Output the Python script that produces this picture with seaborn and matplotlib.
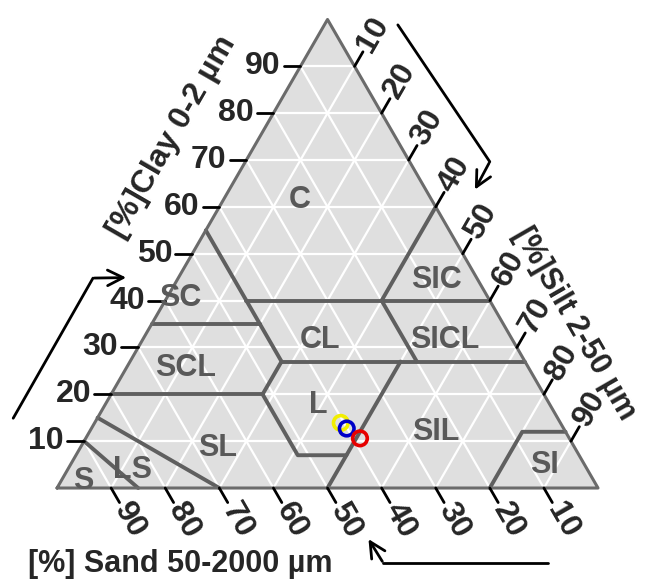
import numpy as np
import pandas as pd
import seaborn as sns
import matplotlib.pyplot as plt

# ternary soil texture triangle (USDA classes), clay/silt/sand in %
ticks = [10, 20, 30, 40, 50, 60, 70, 80, 90]

# class boundaries as (clay, silt) polylines
boundaries = [
    ([10, 0], [0, 15]),
    ([15, 0], [0, 30]),
    ([20, 20], [0, 28]),
    ([20, 7, 7], [28, 41, 50]),
    ([0, 27], [50, 50]),
    ([20, 27], [28, 28]),
    ([27, 27], [28, 73]),
    ([27, 35], [28, 20]),
    ([35, 35], [0, 20]),
    ([35, 55], [20, 0]),
    ([40, 40], [15, 60]),
    ([27, 40], [53, 40]),
    ([40, 60], [40, 40]),
    ([0, 12, 12], [80, 80, 88]),
]

class_names = ["C", "SIC", "SC", "CL", "SICL", "SCL", "L", "SIL", "SL", "LS", "S", "SI"]
class_clay = [61.5, 44.4, 40.6, 31.6, 31.6, 25.6, 17.7, 12.0, 8.5, 3.8, 1.6, 4.9]
class_silt = [14.2, 48.0, 2.4, 32.8, 55.9, 10.9, 39.4, 64.0, 25.5, 12.0, 4.0, 87.7]

# samples
sample_clay = [13.9, 12.7, 10.6]
sample_silt = [45.5, 47.2, 50.7]
sample_colors = ["#f2ee00", "#0000c8", "#e60000"]

H = np.sqrt(3) / 2


def tern(clay, silt):
    clay = np.asarray(clay, dtype=float)
    silt = np.asarray(silt, dtype=float)
    return silt + clay / 2, clay * H


sns.set_style("white")
fig = plt.figure(figsize=(6.46, 5.84), dpi=100)
ax = fig.add_axes([0, 0, 1, 1])
ax.set_xlim(-10.54, 108.87)
ax.set_ylim(-17.74, 90.2)
ax.axis("off")

edge_col = "#6b6b6b"
line_col = "#5f5f5f"
font = "Liberation Sans"

# background
ax.fill([0, 100, 50], [0, 0, 100 * H], color="#dfdfdf", zorder=0)

# white grid lines
for v in ticks:
    x, y = tern([v, v], [0, 100 - v])
    ax.plot(x, y, color="white", lw=1.6, zorder=1)
    x, y = tern([0, 100 - v], [v, v])
    ax.plot(x, y, color="white", lw=1.6, zorder=1)
    x, y = tern([0, 100 - v], [100 - v, 0])
    ax.plot(x, y, color="white", lw=1.6, zorder=1)

# class boundaries
for clay, silt in boundaries:
    x, y = tern(clay, silt)
    ax.plot(x, y, color=line_col, lw=2.8, solid_capstyle="round", zorder=2)

# triangle outline
ax.plot([0, 100, 50, 0], [0, 0, 100 * H, 0], color=edge_col, lw=2.2, zorder=3)

# class labels
for name, c, s in zip(class_names, class_clay, class_silt):
    x, y = tern(c, s)
    ax.text(x, y, name, color="#595959", fontsize=22, fontweight="bold",
            family=font, ha="center", va="center", zorder=4)

tl = 3.1
fs = 23
# clay ticks (left edge)
for v in ticks:
    x, y = tern(v, 0)
    ax.plot([x - tl, x], [y, y], color="black", lw=2, zorder=3)
    ax.text(x - tl - 0.6, y, str(v), fontsize=fs, fontweight="bold",
            family=font, ha="right", va="center")

# silt ticks (right edge)
for v in ticks:
    x, y = tern(100 - v, v)
    dx, dy = 0.5 * tl, H * tl
    ax.plot([x, x + dx], [y, y + dy], color="black", lw=2, zorder=3)
    ax.text(x + dx * 1.15, y + dy * 1.15, str(v), fontsize=fs, fontweight="bold",
            family=font, rotation=60, rotation_mode="anchor",
            ha="left", va="center")

# sand ticks (bottom edge)
for v in ticks:
    x, y = tern(0, 100 - v)
    dx, dy = 0.5 * tl, -H * tl
    ax.plot([x, x + dx], [y, y + dy], color="black", lw=2, zorder=3)
    ax.text(x + dx * 1.15, y + dy * 1.15, str(v), fontsize=fs, fontweight="bold",
            family=font, rotation=-60, rotation_mode="anchor",
            ha="left", va="center")

# axis titles
ax.text(21.3, 64.9, "[%]Clay 0-2 µm", fontsize=fs, fontweight="bold",
        family=font, rotation=60, ha="center", va="center")
ax.text(95.6, 30.3, "[%]Silt 2-50 µm", fontsize=fs - 1, fontweight="bold",
        family=font, rotation=-60, ha="center", va="center")
ax.text(-5.4, -14.1, "[%] Sand 50-2000 µm", fontsize=fs - 1, fontweight="bold",
        family=font, ha="left", va="center")

# direction arrows
arrow = dict(arrowstyle="->", color="black", lw=2, mutation_scale=28)
ax.plot([-8.1, 6.65], [12.9, 38.8], color="black", lw=2)
ax.annotate("", xy=(13.3, 38.9), xytext=(6.4, 38.8), arrowprops=arrow)
ax.plot([63.0, 80.0], [85.6, 60.3], color="black", lw=2)
ax.annotate("", xy=(77.0, 54.7), xytext=(80.1, 60.5), arrowprops=arrow)
ax.plot([90.8, 60.3], [-13.9, -13.9], color="black", lw=2)
ax.annotate("", xy=(57.3, -9.0), xytext=(60.4, -14.0), arrowprops=arrow)

# samples
sx, sy = tern(sample_clay, sample_silt)
samples = pd.DataFrame({"x": sx, "y": sy, "id": ["a", "b", "c"]})
sns.scatterplot(data=samples, x="x", y="y", hue="id", palette=sample_colors,
                s=110, linewidth=2.6, legend=False, ax=ax, zorder=5)
ax.collections[-1].set_facecolor("none")
ax.collections[-1].set_edgecolor(sample_colors)

fig.savefig("out.png", dpi=100)
